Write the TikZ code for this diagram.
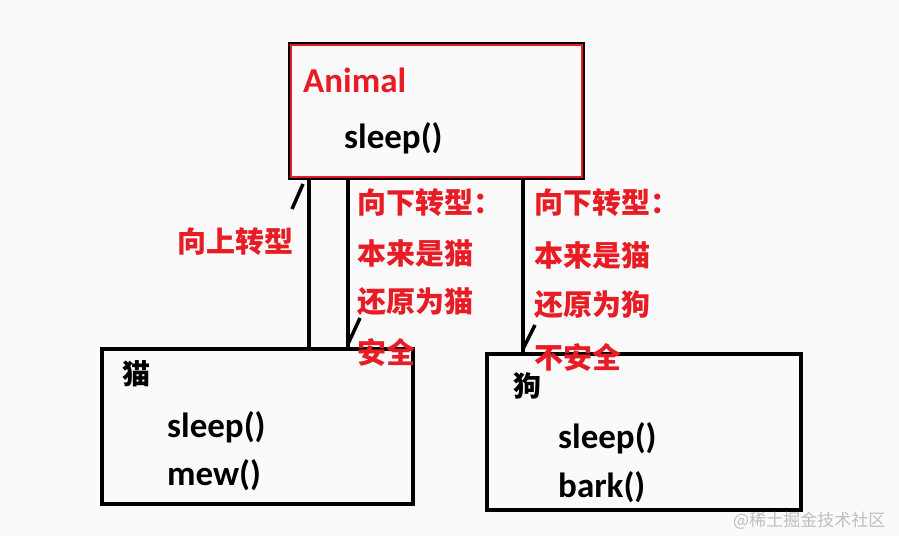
\documentclass[tikz,border=0pt]{standalone}
\usepackage{fontspec}
\setmainfont{Carlito}
\newfontfamily\cjk{Noto Sans CJK SC}
\definecolor{lbl}{RGB}{232,28,36}
\definecolor{bg}{RGB}{250,250,250}
\definecolor{wm}{RGB}{190,190,190}
\begin{document}
\begin{tikzpicture}[x=1pt,y=-1pt,
  box/.style={draw=black, line width=4pt, rectangle, inner sep=0pt, fill=bg},
  conn/.style={line width=3.5pt, line cap=butt},
  tick/.style={line width=3.5pt, line cap=butt},
  redlbl/.style={text=lbl, font=\cjk\bfseries\fontsize{29}{29}\selectfont, anchor=west, inner sep=0pt},
  cjkblk/.style={text=black, font=\cjk\bfseries\fontsize{28}{28}\selectfont, anchor=west, inner sep=0pt},
  code/.style={text=black, font=\bfseries\fontsize{35}{35}\selectfont, anchor=west, inner sep=0pt}]
\fill[bg] (0,0) rectangle (899,536);
\useasboundingbox (0,0) rectangle (899,536);
% boxes
\node[box, minimum width=293pt, minimum height=134pt] (animal) at (436.5,111) {};
\draw[lbl, line width=1.2pt] ([xshift=3pt,yshift=-3pt]animal.north west) rectangle ([xshift=-3pt,yshift=3pt]animal.south east);
\node[box, minimum width=311pt, minimum height=155pt] (cat) at (257.5,426.5) {};
\node[box, minimum width=314pt, minimum height=156pt] (dog) at (644,432) {};
% connector x positions
\coordinate (upx) at (309,0);
\coordinate (dnx) at (348,0);
\coordinate (dgx) at (523,0);
% connectors
\draw[conn] (cat.north -| upx) -- (animal.south -| upx) coordinate (uptop);
\draw[conn] (animal.south -| dnx) -- (cat.north -| dnx) coordinate (dnbot);
\draw[conn] (animal.south -| dgx) -- (dog.north -| dgx) coordinate (dgbot);
% hand-drawn half arrowheads
\draw[tick] ([shift={(-6,4)}]uptop) -- ([shift={(-17,29)}]uptop);
\draw[tick] ([shift={(0,-3)}]dnbot) -- ([shift={(12,-29)}]dnbot);
\draw[tick] ([shift={(0,-3)}]dgbot) -- ([shift={(12,-27)}]dgbot);
% Animal texts
\node[code, text=lbl] (tA) at (303,80) {Animal};
\node[code] (tAs) at (344,138) {sleep()};
% cat texts
\node[cjkblk] (tC) at (122,374) {猫};
\node[code] (tCs) at (167,427) {sleep()};
\node[code] (tCm) at (167,475) {mew()};
% dog texts
\node[cjkblk] (tD) at (513,386) {狗};
\node[code] (tDs) at (558,438) {sleep()};
\node[code] (tDb) at (558,487) {bark()};
% labels
\node[redlbl] (up) at (177,242) {向上转型};
\node[redlbl] (c1) at (357,203) {向下转型：};
\node[redlbl] (c2) at (357,253) {本来是猫};
\node[redlbl] (c3) at (357,302) {还原为猫};
\node[redlbl] (c4) at (357,352) {安全};
\node[redlbl] (d1) at (534,203) {向下转型：};
\node[redlbl] (d2) at (534,255) {本来是猫};
\node[redlbl] (d3) at (534,305) {还原为狗};
\node[redlbl] (d4) at (534,357) {不安全};
% watermark
\node[text=wm, font=\cjk\fontsize{17}{17}\selectfont, anchor=west, inner sep=0pt] (wmk) at (733,521) {@稀土掘金技术社区};
\end{tikzpicture}
\end{document}
